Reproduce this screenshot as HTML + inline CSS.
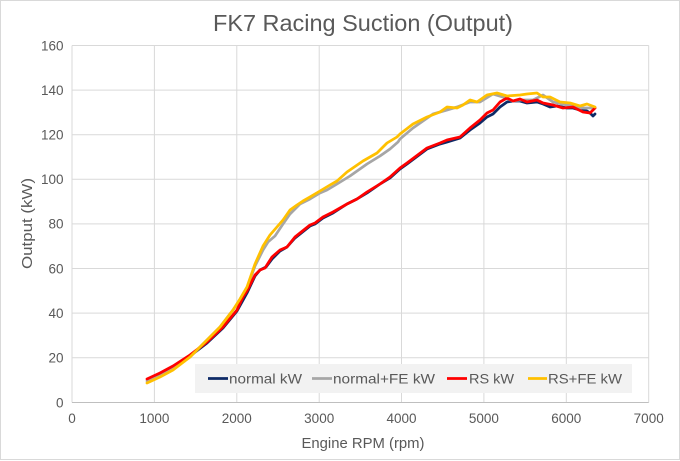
<!DOCTYPE html>
<html><head><meta charset="utf-8"><style>
html,body{margin:0;padding:0;background:#fff;}
svg{display:block;font-family:"Liberation Sans",sans-serif;}
</style></head><body>
<svg width="680" height="461" viewBox="0 0 680 461" xmlns="http://www.w3.org/2000/svg">
<rect x="0.5" y="0.5" width="679" height="459" fill="#fff" stroke="#d9d9d9" stroke-width="1"/>
<text x="363" y="31" font-size="23.5" fill="#595959" text-anchor="middle" textLength="300" lengthAdjust="spacingAndGlyphs">FK7 Racing Suction (Output)</text>
<g stroke="#d9d9d9" stroke-width="1" fill="none">
<line x1="72" y1="45.5" x2="648.7" y2="45.5"/>
<line x1="72" y1="90.1" x2="648.7" y2="90.1"/>
<line x1="72" y1="134.7" x2="648.7" y2="134.7"/>
<line x1="72" y1="179.3" x2="648.7" y2="179.3"/>
<line x1="72" y1="223.9" x2="648.7" y2="223.9"/>
<line x1="72" y1="268.5" x2="648.7" y2="268.5"/>
<line x1="72" y1="313.1" x2="648.7" y2="313.1"/>
<line x1="72" y1="357.7" x2="648.7" y2="357.7"/>
<line x1="72" y1="45.5" x2="72" y2="402.5"/>
<line x1="154.4" y1="45.5" x2="154.4" y2="402.5"/>
<line x1="236.8" y1="45.5" x2="236.8" y2="402.5"/>
<line x1="319.2" y1="45.5" x2="319.2" y2="402.5"/>
<line x1="401.5" y1="45.5" x2="401.5" y2="402.5"/>
<line x1="483.9" y1="45.5" x2="483.9" y2="402.5"/>
<line x1="566.3" y1="45.5" x2="566.3" y2="402.5"/>
<line x1="648.7" y1="45.5" x2="648.7" y2="402.5"/>
</g>
<line x1="72" y1="402.5" x2="648.7" y2="402.5" stroke="#bfbfbf" stroke-width="1"/>
<g font-size="13.5" fill="#595959" text-anchor="end">
<text x="63.5" y="50.3">160</text>
<text x="63.5" y="94.9">140</text>
<text x="63.5" y="139.5">120</text>
<text x="63.5" y="184.1">100</text>
<text x="63.5" y="228.7">80</text>
<text x="63.5" y="273.3">60</text>
<text x="63.5" y="317.9">40</text>
<text x="63.5" y="362.5">20</text>
<text x="63.5" y="407.3">0</text>
</g>
<g font-size="13.5" fill="#595959" text-anchor="middle">
<text x="72" y="423">0</text>
<text x="154.4" y="423">1000</text>
<text x="236.8" y="423">2000</text>
<text x="319.2" y="423">3000</text>
<text x="401.5" y="423">4000</text>
<text x="483.9" y="423">5000</text>
<text x="566.3" y="423">6000</text>
<text x="648.7" y="423">7000</text>
</g>
<text x="363" y="448" font-size="15" fill="#595959" text-anchor="middle" textLength="123" lengthAdjust="spacingAndGlyphs">Engine RPM (rpm)</text>
<text transform="translate(32,223.5) rotate(-90)" x="0" y="0" font-size="15" fill="#595959" text-anchor="middle" textLength="91" lengthAdjust="spacingAndGlyphs">Output (kW)</text>
<g fill="none" stroke-width="2.75" stroke-linejoin="round" stroke-linecap="round">
<polyline stroke="#0e2a66" points="148,380 160,375 173,368 190,356 207,343 223,328 237,311 247,293 255,276 260,270 266,267 272,259 280,251 287,247 295,238 300,234 310,226 315,224 323,218 333,213 347,204 357,199 367,193 380,184 390,178 400,169 407,164 427,149 440,144 447,142 460,138 470,130 480,123 487,117 493,114 500,107 507,102 513,101 520,101 527,103 537,102 543,104 550,107 557,106 567,108 573,108 580,110 587,111 590,113 593,116 595,114"/>
<polyline stroke="#a6a6a6" points="147,381 160,376 173,369 190,357 207,340 220,327 233,310 240,300 247,288 255,266 263,250 268,242 275,236 283,224 290,214 300,204 310,199 320,193 327,190 337,184 350,176 367,164 380,156 390,149 398,142 400,139 413,128 433,114 447,110 457,107 470,102 480,102 493,94 503,97 513,101 520,100 533,100 543,95 553,102 567,105 580,108 595,108"/>
<polyline stroke="#ff0000" points="147,379 160,373 173,366 190,355 207,342 223,327 237,310 243,297 247,291 255,275 260,270 265,268 272,257 280,250 287,247 295,237 300,233 310,225 315,223 323,217 333,212 347,204 357,199 367,192 380,184 390,177 400,168 407,163 427,148 440,143 447,140 460,137 470,128 480,120 487,113 493,110 500,102 507,98 513,101 520,99 527,102 537,100 543,103 553,105 563,108 573,107 583,112 590,113 595,108"/>
<polyline stroke="#ffc000" points="147,383 160,377 173,370 190,357 207,340 220,327 233,310 240,299 247,287 255,264 263,246 270,235 283,220 290,210 297,205 303,201 310,197 320,191 330,185 337,181 347,172 363,161 377,153 387,143 397,137 400,134 413,124 427,117 440,112 447,107 457,108 463,105 470,100 477,102 487,95 497,93 507,96 520,95 527,94 537,93 543,97 550,97 560,102 570,103 580,106 587,104 595,107"/>
</g>
<rect x="195" y="364" width="437" height="29" fill="#f2f2f2"/>
<g stroke-width="2.75">
<line x1="208" y1="378.5" x2="228" y2="378.5" stroke="#0e2a66"/>
<line x1="312" y1="378.5" x2="332" y2="378.5" stroke="#a6a6a6"/>
<line x1="447" y1="378.5" x2="467" y2="378.5" stroke="#ff0000"/>
<line x1="528" y1="378.5" x2="547" y2="378.5" stroke="#ffc000"/>
</g>
<g font-size="14" fill="#595959">
<text x="229" y="383.5" textLength="73" lengthAdjust="spacingAndGlyphs">normal kW</text>
<text x="333" y="383.5" textLength="102" lengthAdjust="spacingAndGlyphs">normal+FE kW</text>
<text x="469" y="383.5" textLength="45" lengthAdjust="spacingAndGlyphs">RS kW</text>
<text x="548" y="383.5" textLength="74" lengthAdjust="spacingAndGlyphs">RS+FE kW</text>
</g>
</svg>
</body></html>
